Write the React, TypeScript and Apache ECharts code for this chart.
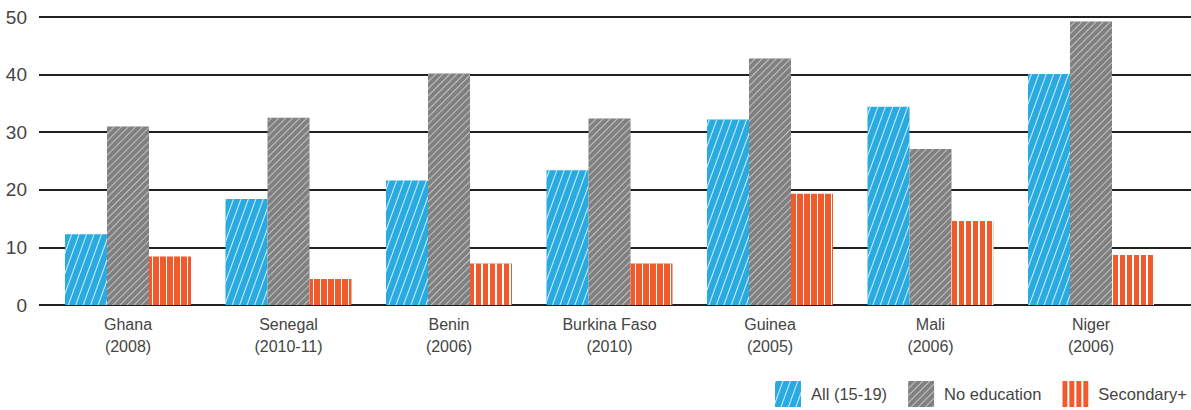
import React, { useEffect, useRef } from "react";
import * as echarts from "echarts";

const categories = [
  "Ghana\n(2008)",
  "Senegal\n(2010-11)",
  "Benin\n(2006)",
  "Burkina Faso\n(2010)",
  "Guinea\n(2005)",
  "Mali\n(2006)",
  "Niger\n(2006)",
];
const allValues = [12.3, 18.4, 21.6, 23.4, 32.2, 34.4, 40.1];
const noEducation = [31.0, 32.5, 40.2, 32.4, 42.8, 27.1, 49.2];
const secondaryPlus = [8.4, 4.5, 7.2, 7.2, 19.3, 14.6, 8.7];
const seriesNames = ["All (15-19)", "No education", "Secondary+"];
const yTicks = { min: 0, max: 50, interval: 10 };

const FONT = "Liberation Sans";
const TEXT = "#444444";

export default function App() {
  const ref = useRef<HTMLDivElement>(null);
  useEffect(() => {
    document.body.style.margin = "0";
    const chart = echarts.init(ref.current!, null, { renderer: "svg" });
    const deg = Math.PI / 180;
    const option: any = {
      animation: false,
      grid: [
        { left: 39, right: 0, top: 17, bottom: 105 },
        { left: 47.75, width: 1123.5, top: 17, bottom: 105 },
      ],
      xAxis: [
        { type: "value", gridIndex: 0, show: false, min: 0, max: 1 },
        {
          type: "category",
          gridIndex: 1,
          data: categories,
          axisLine: { show: false },
          axisTick: { show: false },
          axisLabel: {
            fontFamily: FONT,
            fontSize: 16,
            color: TEXT,
            lineHeight: 22,
            margin: 8,
          },
        },
      ],
      yAxis: [
        {
          type: "value",
          gridIndex: 0,
          ...yTicks,
          axisLine: { show: false },
          axisTick: { show: false },
          axisLabel: { fontFamily: FONT, fontSize: 19, color: TEXT, margin: 12 },
          splitLine: { lineStyle: { color: "#231f20", width: 2 } },
        },
        { type: "value", gridIndex: 1, ...yTicks, show: false, splitLine: { show: false } },
      ],
      legend: {
        left: 770,
        top: 376,
        width: 440,
        icon: "rect",
        itemWidth: 26,
        itemHeight: 26,
        itemGap: 21,
        textStyle: { fontFamily: FONT, fontSize: 16.5, color: TEXT, padding: [0, 0, 0, 5] },
        data: seriesNames,
      },
      series: [
        {
          name: seriesNames[0],
          type: "bar",
          xAxisIndex: 1,
          yAxisIndex: 1,
          data: allValues,
          barGap: "0%",
          barCategoryGap: "21.5%",
          itemStyle: {
            color: "#29abe2",
            decal: {
              symbol: "rect",
              symbolSize: 1,
              dashArrayX: [1, 0],
              dashArrayY: [0.8, 6],
              rotation: -70 * deg,
              color: "rgba(255,255,255,0.8)",
            },
          },
        },
        {
          name: seriesNames[1],
          type: "bar",
          xAxisIndex: 1,
          yAxisIndex: 1,
          data: noEducation,
          itemStyle: {
            color: "#808080",
            decal: {
              symbol: "rect",
              symbolSize: 1,
              dashArrayX: [1, 0],
              dashArrayY: [0.9, 3.4],
              rotation: -45 * deg,
              color: "rgba(205,205,205,0.85)",
            },
          },
        },
        {
          name: seriesNames[2],
          type: "bar",
          xAxisIndex: 1,
          yAxisIndex: 1,
          data: secondaryPlus,
          itemStyle: {
            color: "#f15a2b",
            decal: {
              symbol: "rect",
              symbolSize: 1,
              dashArrayX: [1, 0],
              dashArrayY: [1.1, 4.2],
              rotation: 90 * deg,
              color: "#ffffff",
            },
          },
        },
      ],
    };
    chart.setOption(option);
    return () => chart.dispose();
  }, []);
  return <div ref={ref} style={{ width: 1191, height: 410 }} />;
}
